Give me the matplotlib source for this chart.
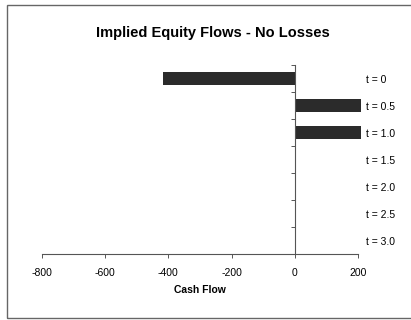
import matplotlib
matplotlib.use('Agg')
import matplotlib.pyplot as plt
import matplotlib.transforms as mtransforms
from matplotlib.patches import Rectangle

# data
periods = ['t = 0', 't = 0.5', 't = 1.0', 't = 1.5', 't = 2.0', 't = 2.5', 't = 3.0']
cash_flow = [-417, 211, 211, 0, 0, 0, 0]
x_ticks = [-800, -600, -400, -200, 0, 200]

plt.rcParams['font.family'] = ['Liberation Sans', 'DejaVu Sans']

W, H = 411, 320
fig = plt.figure(figsize=(W / 100, H / 100), dpi=100)
fig.patch.set_facecolor('white')

# outer chart frame (right/bottom run off the picture)
fig.patches.append(Rectangle((7 / W, 1 - 318 / H), 420 / W, 313 / H,
                             transform=fig.transFigure, fill=False,
                             edgecolor='#666666', linewidth=1.0))

ax = fig.add_axes([42 / W, 1 - 254 / H, 316 / W, 189 / H])
ypos = list(range(len(periods)))
ax.barh(ypos, cash_flow, height=0.5, color='#2b2b2b', clip_on=False)

ax.set_xlim(x_ticks[0], x_ticks[-1])
ax.set_ylim(len(periods) - 0.5, -0.5)
ax.set_xticks(x_ticks)
ax.set_xticklabels([str(v) for v in x_ticks], fontsize=7.5)
ax.set_yticks([i - 0.5 for i in range(len(periods) + 1)])
ax.set_yticklabels([])

ax.spines['top'].set_visible(False)
ax.spines['right'].set_visible(False)
ax.spines['left'].set_position(('data', 0))
for s in ('left', 'bottom'):
    ax.spines[s].set_color('#555555')
    ax.spines[s].set_linewidth(0.8)
ax.tick_params(axis='both', direction='out', length=3, width=0.7, color='#555555')
ax.tick_params(axis='x', pad=7)

trans = mtransforms.blended_transform_factory(ax.transAxes, ax.transData)
for i, lab in enumerate(periods):
    ax.text(1.024, i + 0.05, lab, transform=trans, ha='left', va='center', fontsize=7.5)

ax.set_xlabel('Cash Flow', fontsize=7.5, fontweight='bold', labelpad=5)
fig.text(213 / W, 1 - 33 / H, 'Implied Equity Flows - No Losses',
         ha='center', va='center', fontsize=10.5, fontweight='bold')

fig.savefig('out.png', dpi=100, facecolor='white')
